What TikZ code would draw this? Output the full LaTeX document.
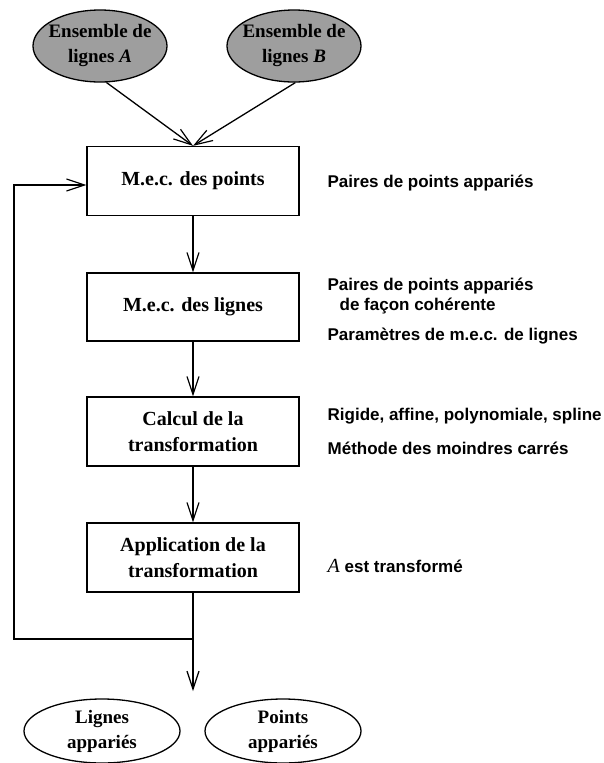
\documentclass[tikz,border=0pt]{standalone}
\usepackage{fontspec}
\setmainfont{Liberation Serif}
\newfontfamily\hel{Liberation Sans}
\usetikzlibrary{arrows.meta,shapes.geometric}
\begin{document}
\begin{tikzpicture}[x=1pt,y=-1pt,
  line width=1.3pt,
  arr/.style={-{Straight Barb[length=18pt,width=12pt,line width=1.2pt]}},
  stepbox/.style={draw,rectangle,minimum width=212pt,minimum height=69pt,inner sep=0pt,
    font=\fontsize{20}{26}\selectfont\bfseries,align=center},
  inell/.style={draw,ellipse,fill=black!38,minimum width=134pt,minimum height=72pt,inner sep=0pt},
  outell/.style={draw,ellipse,minimum width=156pt,minimum height=64pt,inner sep=0pt},
  elltext/.style={font=\fontsize{19}{25}\selectfont\bfseries,align=center},
  note/.style={anchor=west,font=\hel\fontsize{17}{20}\selectfont\bfseries,align=left,inner sep=0pt}
]
\useasboundingbox (0,0) rectangle (603,763);

\node[inell,label={[elltext]center:{Ensemble de\\lignes \textit{A}}}] (A) at (100,46) {};
\node[inell,label={[elltext]center:{Ensemble de\\lignes \textit{B}}}] (B) at (294,46) {};

\node[stepbox] (p1) at (193,181) {M.e.c. des points};
\node[stepbox,minimum height=68pt] (p2) at (193,307) {M.e.c. des lignes};
\node[stepbox] (p3) at (193,431.5) {Calcul de la\\transformation};
\node[stepbox] (p4) at (193,557.5) {Application de la\\transformation};

\node[outell,label={[elltext]center:{Lignes\\appariés}}] (L) at (102,731) {};
\node[outell,label={[elltext]center:{Points\\appariés}}] (P) at (283,731) {};

\coordinate (j) at (193,639);
\coordinate (e) at (193,691);
\coordinate (c1) at (14,639);
\coordinate (c2) at (14,185);
\coordinate (c3) at (p1.west |- c2);

\draw[arr] (A.280) -- (p1.north);
\draw[arr] (B.272) -- (p1.north);
\draw[arr] (p1) -- (p2);
\draw[arr] (p2) -- (p3);
\draw[arr] (p3) -- (p4);
\draw[arr] (p4.south) -- (e);
\draw[arr] (j) -- (c1) -- (c2) -- (c3);

\node[note] (n1) at (327,183) {Paires de points appariés};
\node[note] (n2) at (327,286) {Paires de points appariés};
\node[note] (n3) at (339,306) {de façon cohérente};
\node[note] (n4) at (327,336) {Paramètres de m.e.c. de lignes};
\node[note] (n5) at (327,416) {Rigide, affine, polynomiale, spline};
\node[note] (n6) at (327,448) {Méthode des moindres carrés};
\node[note] (n7) at (327,566) {{\rmfamily\fontsize{20}{20}\selectfont\mdseries\textit{A}} est transformé};
\end{tikzpicture}
\end{document}
